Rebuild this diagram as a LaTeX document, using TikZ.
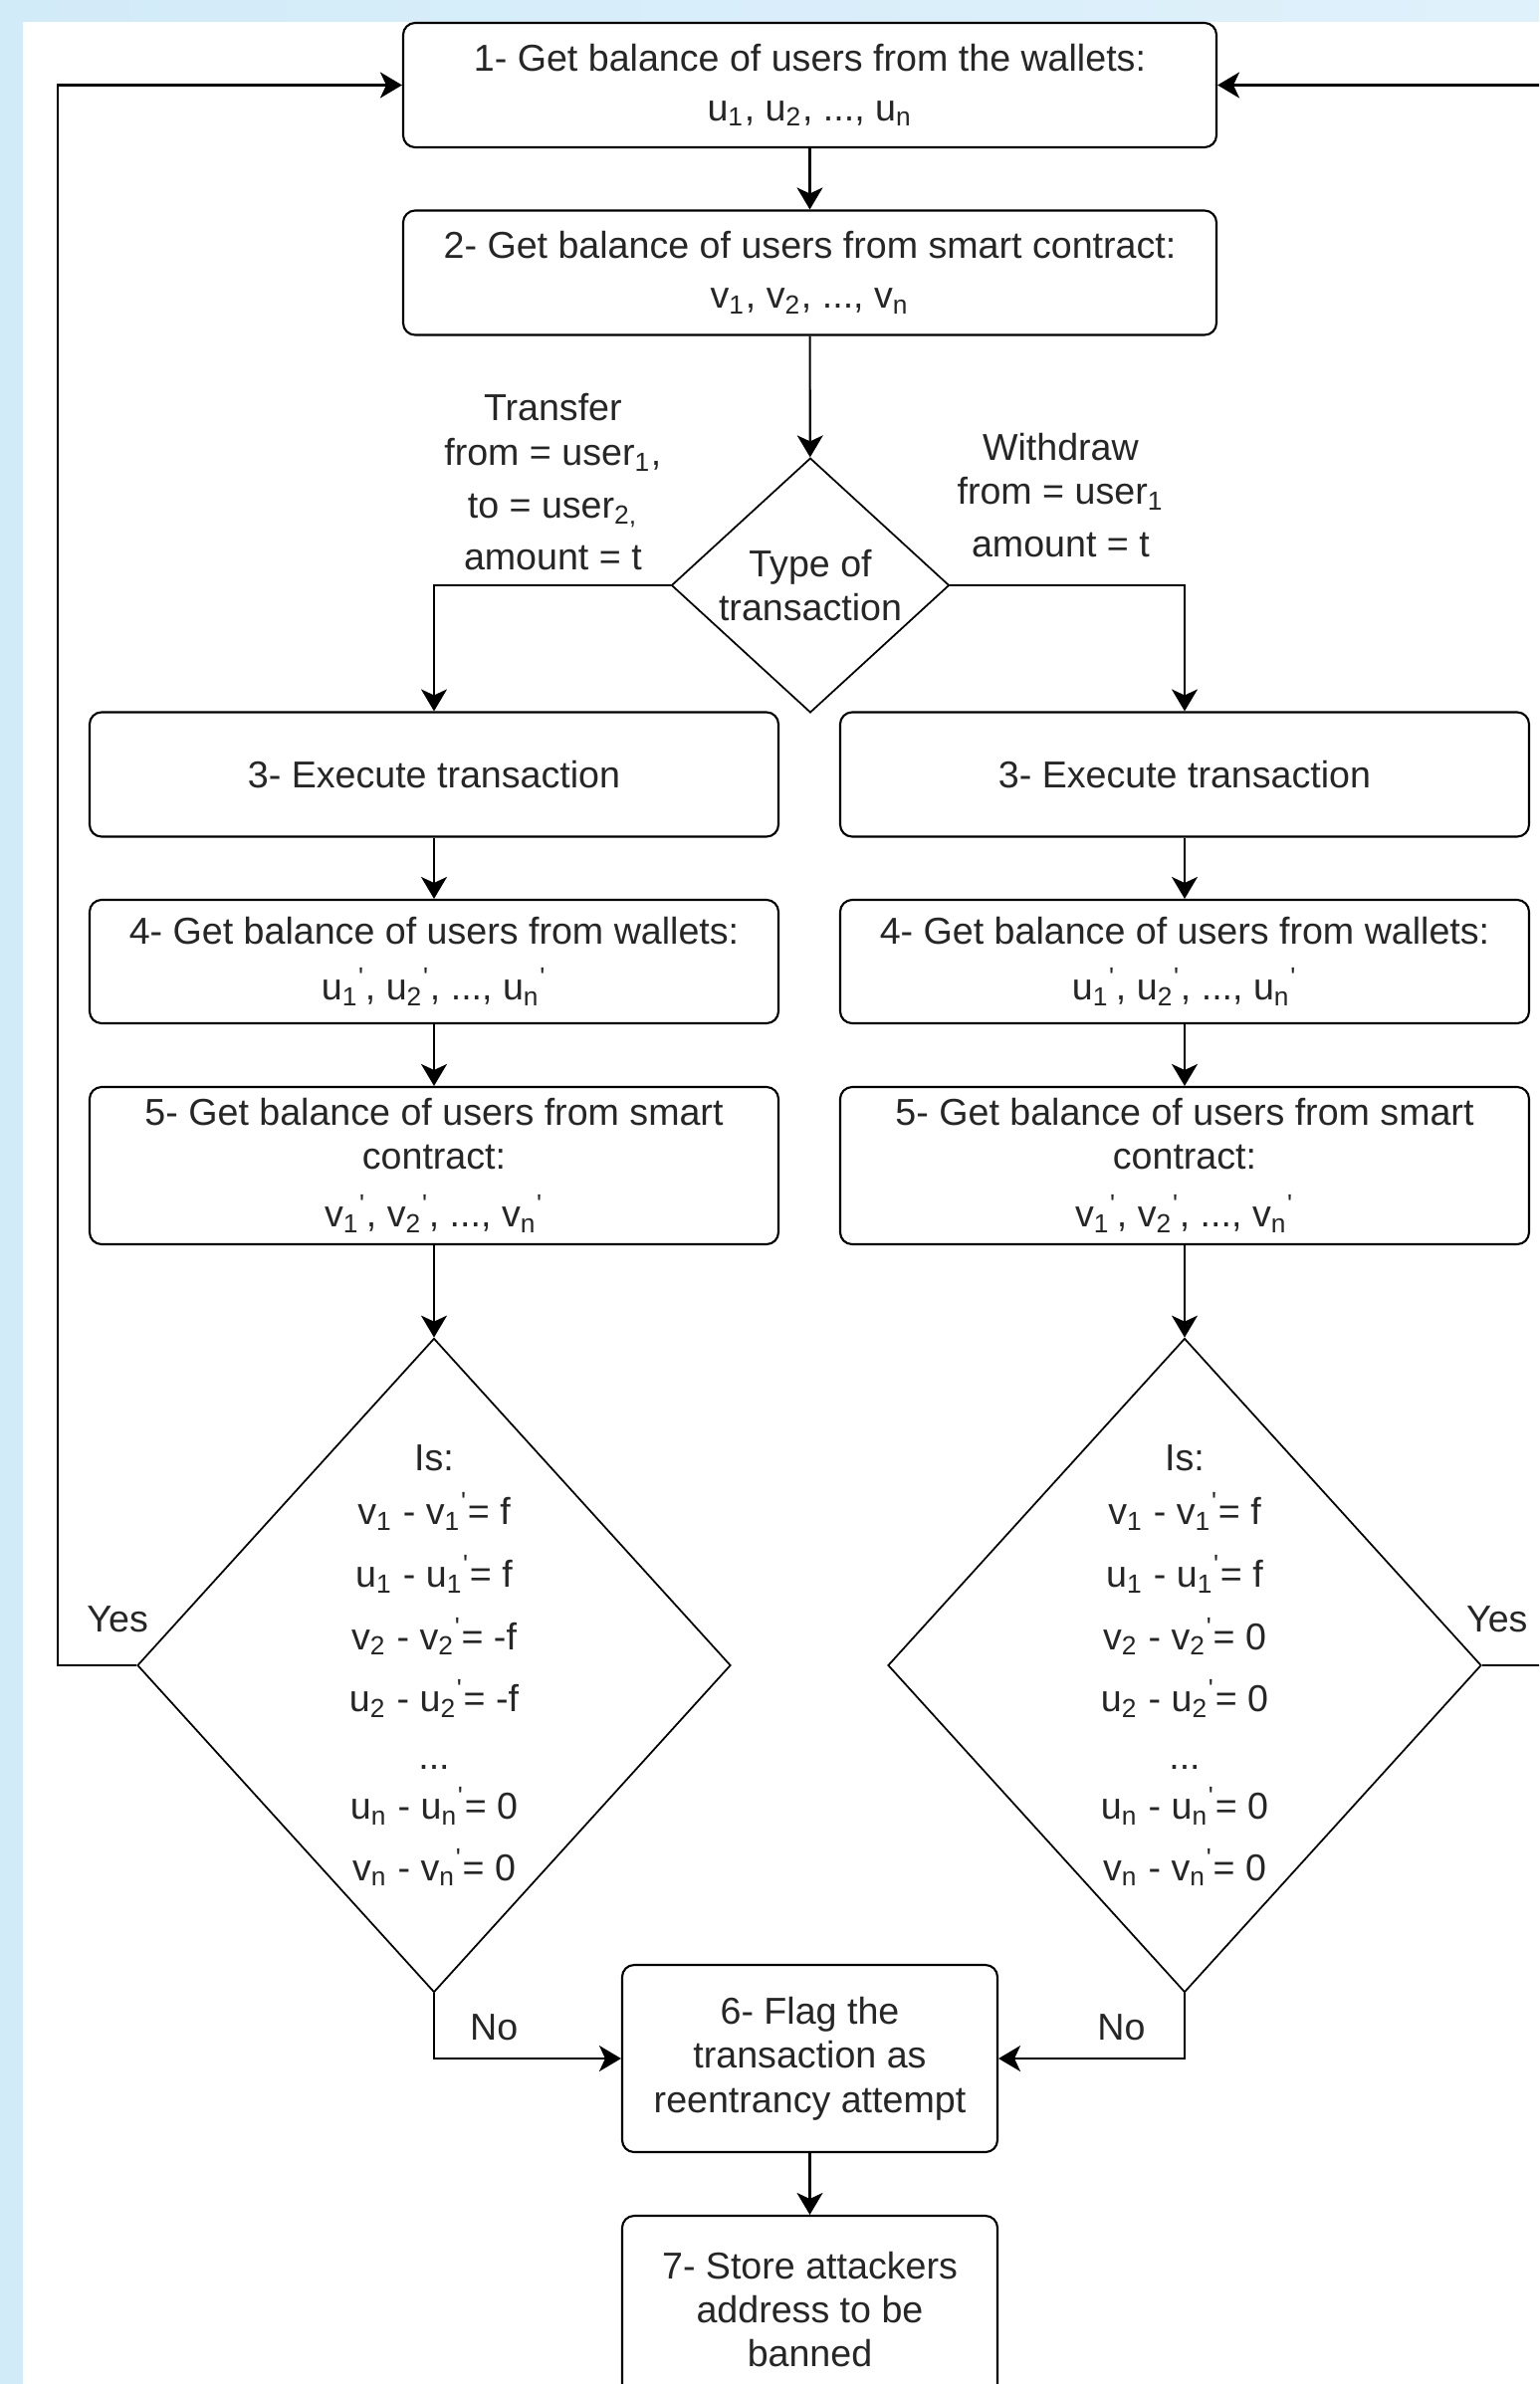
\documentclass[tikz,border=0pt]{standalone}
\usepackage{fontspec}
\setmainfont{Liberation Sans}[Ligatures=TeXOff]
\usetikzlibrary{arrows.meta, positioning, shapes.geometric}
\definecolor{bgblue}{HTML}{D2EBF9}
\definecolor{bgpale}{HTML}{F3F9FE}
\newcommand{\sbs}[2]{#1\textsubscript{#2}}
\newcommand{\prm}[2]{#1\textsubscript{#2}\textsuperscript{'}}
\tikzset{
    fcbox/.style={draw, rounded corners=0.12cm, line width=0.6pt, align=center, inner sep=2pt, text=black!85, font=\fontsize{10.7}{12.6}\selectfont},
    topbox/.style={fcbox, minimum width=8.17cm, minimum height=1.25cm},
    colbox/.style={fcbox, minimum width=6.92cm, minimum height=1.25cm},
    endbox/.style={fcbox, minimum width=3.77cm, minimum height=1.88cm},
    fcdecision/.style={diamond, draw, line width=0.5pt, align=center, inner sep=0pt, text=black!85, font=\fontsize{10.7}{12.6}\selectfont},
    checkdiamond/.style={fcdecision, aspect=0.907, minimum width=5.96cm, minimum height=6.57cm},
    fclabel/.style={align=center, inner sep=1pt, text=black!85, font=\fontsize{10.7}{12.6}\selectfont},
    fcarrow/.style={-{Stealth[length=2.2mm, width=2.6mm, inset=0.6mm]}, line width=0.6pt}
}

\begin{document}
\begin{tikzpicture}
    \useasboundingbox (0,0) rectangle (15.46,-23.95);
    \clip (0,0) rectangle (15.46,-23.95);
    % Frame
    \fill[bgblue] (0,0) rectangle (0.23,-23.95);
    \shade[left color=bgblue, middle color=bgpale, right color=bgblue!70!white] (0,0) rectangle (15.46,-0.21);

    \node[topbox] (b1) at (8.135,-0.855) {1- Get balance of users from the wallets:\\[1.6pt] \sbs{u}{1}, \sbs{u}{2}, ..., \sbs{u}{n}};
    \node[topbox] (b2) at (8.135,-2.74) {2- Get balance of users from smart contract:\\[1.6pt] \sbs{v}{1}, \sbs{v}{2}, ..., \sbs{v}{n}};
    \node[fcdecision, minimum width=2.79cm, minimum height=2.50cm] (type) at (8.14,-5.88) {Type of\\ transaction};

    \node[colbox] (b3l) at (4.36,-7.78) {3- Execute transaction};
    \node[colbox] (b3r) at (11.90,-7.78) {3- Execute transaction};
    \node[colbox, minimum height=1.24cm] (b4l) at (4.36,-9.66) {4- Get balance of users from wallets:\\[3.4pt] \prm{u}{1}, \prm{u}{2}, ..., \prm{u}{n}};
    \node[colbox, minimum height=1.24cm] (b4r) at (11.90,-9.66) {4- Get balance of users from wallets:\\[3.4pt] \prm{u}{1}, \prm{u}{2}, ..., \prm{u}{n}};
    \node[colbox, minimum height=1.58cm] (b5l) at (4.36,-11.71) {5- Get balance of users from smart\\ contract:\\[3.9pt] \prm{v}{1}, \prm{v}{2}, ..., \prm{v}{n}};
    \node[colbox, minimum height=1.58cm] (b5r) at (11.90,-11.71) {5- Get balance of users from smart\\ contract:\\[3.9pt] \prm{v}{1}, \prm{v}{2}, ..., \prm{v}{n}};

    \node[checkdiamond] (d2l) at (4.36,-16.73) {Is:\\[3pt]
        \sbs{v}{1} - \prm{v}{1}= f\\[5.2pt]
        \sbs{u}{1} - \prm{u}{1}= f\\[5.2pt]
        \sbs{v}{2} - \prm{v}{2}= -f\\[5.2pt]
        \sbs{u}{2} - \prm{u}{2}= -f\\[3.9pt]
        ...\\[1.7pt]
        \sbs{u}{n} - \prm{u}{n}= 0\\[4.8pt]
        \sbs{v}{n} - \prm{v}{n}= 0};
    \node[checkdiamond] (d2r) at (11.90,-16.73) {Is:\\[3pt]
        \sbs{v}{1} - \prm{v}{1}= f\\[5.2pt]
        \sbs{u}{1} - \prm{u}{1}= f\\[5.2pt]
        \sbs{v}{2} - \prm{v}{2}= 0\\[5.2pt]
        \sbs{u}{2} - \prm{u}{2}= 0\\[3.9pt]
        ...\\[1.7pt]
        \sbs{u}{n} - \prm{u}{n}= 0\\[4.8pt]
        \sbs{v}{n} - \prm{v}{n}= 0};

    \node[endbox] (b6) at (8.135,-20.68) {6- Flag the\\ transaction as\\ reentrancy attempt};
    \node[endbox] (b7) at (8.135,-23.20) {7- Store attackers\\ address to be\\ banned};

    % Branch labels
    \node[fclabel, above left=0.11cm and 0.05cm of type.west] (trlbl) {Transfer\\[0.4pt] from = \sbs{user}{1},\\[2.4pt] to = \sbs{user}{2,}\\[2.2pt] amount = t};
    \node[fclabel, above right=0.24cm and 0.03cm of type.east] (wdlbl) {Withdraw\\ from = \sbs{user}{1}\\[2.4pt] amount = t};

    \coordinate (loopL) at (0.58,-0.855);
    \coordinate (loopR) at (16.2,-0.855);

    % Main flow
    \draw[fcarrow] (b1) -- (b2);
    \draw[fcarrow] (b2) -- (type);
    \draw[fcarrow] (type.west) -| (b3l.north);
    \draw[fcarrow] (type.east) -| (b3r.north);
    \draw[fcarrow] (b3l) -- (b4l);
    \draw[fcarrow] (b4l) -- (b5l);
    \draw[fcarrow] (b5l) -- (d2l);
    \draw[fcarrow] (b3r) -- (b4r);
    \draw[fcarrow] (b4r) -- (b5r);
    \draw[fcarrow] (b5r) -- (d2r);

    % Back to the start
    \draw[fcarrow] (d2l.west) -| node[fclabel, above=8pt, pos=0.12] {Yes} (loopL) -- (b1.west);
    \draw[fcarrow] (d2r.east) -| node[fclabel, above=8pt, pos=0.057] {Yes} (loopR) -- (b1.east);

    % Flagging
    \draw[fcarrow] (d2l.south) |- node[fclabel, above=4pt, pos=0.66] {No} (b6.west);
    \draw[fcarrow] (d2r.south) |- node[fclabel, above=4pt, pos=0.67] {No} (b6.east);
    \draw[fcarrow] (b6) -- (b7);
\end{tikzpicture}
\end{document}
